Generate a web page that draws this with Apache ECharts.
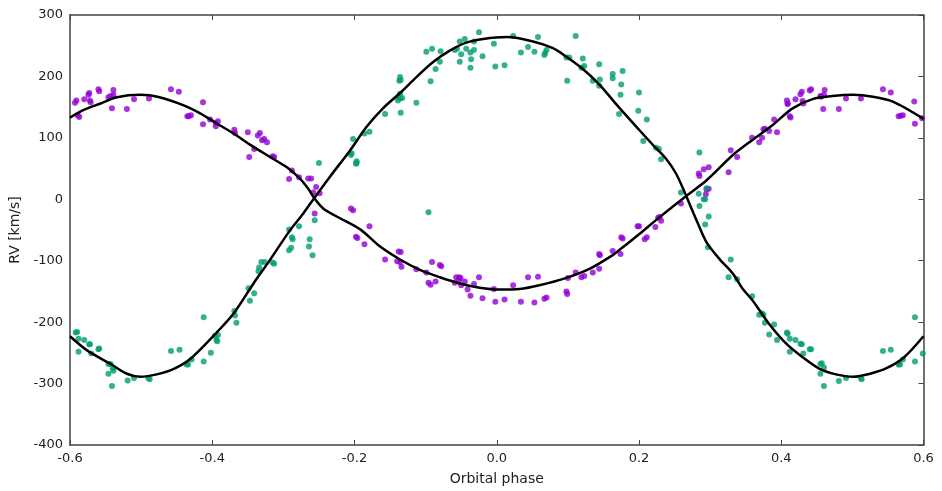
<!DOCTYPE html>
<html>
<head>
<meta charset="utf-8">
<script src="https://cdn.jsdelivr.net/npm/echarts@6/dist/echarts.min.js"></script>
<style>html,body{margin:0;padding:0;background:#fff;}#chart{width:942px;height:491px;}</style>
</head>
<body>
<div id="chart"></div>
<script>
// Purple component: [phase, RV km/s]
const purplePhase = [-0.593,-0.591,-0.589,-0.587,-0.580,-0.573,-0.574,-0.572,-0.571,-0.560,-0.559,-0.546,-0.543,-0.541,-0.539,-0.539,-0.520,-0.510,-0.489,-0.458,-0.447,-0.435,-0.433,-0.430,-0.413,-0.413,-0.403,-0.395,-0.395,-0.392,-0.369,-0.368,-0.350,-0.348,-0.341,-0.336,-0.333,-0.330,-0.327,-0.323,-0.315,-0.313,-0.292,-0.288,-0.278,-0.265,-0.261,-0.254,-0.258,-0.256,-0.249,
-0.205,-0.202,-0.179,-0.198,-0.196,-0.186,
-0.157,-0.138,-0.135,-0.140,-0.136,-0.134,-0.113,-0.099,-0.091,-0.096,-0.093,-0.086,-0.080,-0.078,-0.059,-0.057,-0.053,-0.051,-0.053,-0.050,-0.045,-0.041,-0.037,-0.032,-0.025,-0.020,-0.004,-0.002,0.011,0.023,0.034,0.044,0.053,0.058,0.067,0.070,0.098,0.099,0.100,0.111,0.119,0.123,0.135,0.144,0.144,0.145,0.163,0.174,
0.175,0.177,0.198,0.200,0.208,0.211,0.223,0.227,0.229,0.231,0.259,0.284,0.285,0.291,0.298,0.294,0.295,0.298,0.326,0.329,0.338,0.359,0.369,0.373,0.375,0.377,0.383,0.390,0.394,0.408,0.409,0.409,0.412,0.413,0.420,0.427,0.429,0.430,0.431,0.440,0.442,0.455,0.456,0.460,0.461,0.459,0.481,0.491,0.512,0.543,0.554,0.565,0.568,0.571,0.587,0.588,0.598];
const purpleRV = [157,161,137,134,163,173,170,161,158,179,176,166,168,148,178,170,147,163,164,179,175,135,135,137,158,122,130,124,119,127,113,108,109,69,82,104,108,96,98,93,70,69,33,47,36,34,34,20,11,-23,10,
-15,-18,-44,-61,-63,-73,
-98,-85,-86,-101,-102,-110,-114,-119,-102,-136,-139,-134,-107,-109,-136,-127,-127,-128,-131,-140,-134,-147,-157,-138,-127,-161,-146,-167,-163,-140,-167,-127,-168,-126,-162,-160,-150,-154,-128,-119,-127,-125,-119,-113,-89,-91,-84,-89,
-62,-64,-44,-44,-65,-62,-45,-30,-29,-35,-7,42,38,49,52,8,16,17,44,80,69,100,93,100,114,115,111,130,109,161,156,155,135,133,163,171,175,160,156,177,179,168,167,170,178,147,147,164,164,179,174,135,136,137,159,123,132];

// Green component
const greenPhase = [-0.592,-0.590,-0.588,-0.588,-0.580,-0.573,-0.572,-0.570,-0.560,-0.559,-0.546,-0.543,-0.546,-0.540,-0.539,-0.541,-0.519,-0.510,-0.490,-0.488,-0.458,-0.446,-0.436,-0.434,-0.429,-0.412,-0.412,-0.402,-0.396,-0.392,-0.394,-0.393,-0.369,-0.368,-0.366,-0.349,-0.347,-0.341,-0.335,-0.334,-0.331,-0.326,-0.315,-0.313,-0.292,-0.289,-0.259,
-0.292,-0.288,-0.287,-0.278,-0.263,-0.264,-0.256,-0.250,
-0.202,-0.204,-0.205,-0.197,-0.198,-0.197,-0.186,-0.179,-0.157,-0.136,-0.135,-0.137,-0.136,-0.138,-0.139,-0.136,-0.133,-0.135,-0.113,-0.096,-0.099,-0.091,-0.079,-0.093,-0.086,-0.080,-0.059,-0.056,-0.052,-0.045,-0.050,-0.052,-0.043,-0.037,-0.032,-0.032,-0.036,-0.037,-0.025,-0.020,-0.004,-0.002,0.011,0.023,0.034,0.044,0.053,0.058,0.067,0.068,0.070,0.098,0.102,0.099,0.111,0.121,0.123,0.119,0.135,0.144,0.145,0.144,0.163,0.163,0.177,0.175,0.174,0.172,
0.200,0.199,0.211,0.206,0.224,0.228,0.231,0.259,0.285,0.284,0.295,0.291,0.293,0.285,0.298,0.293,0.297,
0.329,0.326,0.338,0.359,0.369,0.373,0.375,0.377,0.390,0.383,0.394,0.408,0.409,0.412,0.412,0.420,0.427,0.429,0.431,0.440,0.442,0.455,0.457,0.460,0.455,0.460,0.481,0.491,0.512,0.513,0.543,0.554,0.565,0.567,0.571,0.588,0.588,0.599];
const greenRV = [-217,-216,-227,-248,-229,-236,-236,-251,-244,-243,-268,-268,-284,-275,-279,-304,-295,-291,-291,-293,-247,-245,-269,-269,-261,-192,-264,-250,-222,-221,-229,-231,-182,-189,-201,-145,-165,-153,-117,-111,-102,-102,-103,-105,-83,-79,-91,
-49,-62,-65,-44,-65,-77,-34,59,
98,75,72,62,58,59,107,110,139,199,194,193,172,166,161,164,165,141,157,-21,240,245,241,192,212,224,243,245,257,261,236,224,245,239,257,243,228,214,272,233,253,216,218,266,239,248,240,264,235,238,243,231,231,193,266,229,217,214,193,220,195,185,204,197,209,187,170,139,
174,144,130,95,84,82,65,11,76,9,18,0,0,-11,-28,-41,-78,
-98,-127,-130,-158,-188,-186,-188,-201,-204,-220,-229,-217,-219,-227,-248,-229,-235,-236,-251,-244,-244,-268,-267,-274,-284,-304,-296,-291,-291,-293,-247,-245,-269,-269,-261,-192,-264,-251];

// Model curves
const purpleModelPhase = [-0.600,-0.580,-0.557,-0.534,-0.501,-0.477,-0.440,-0.417,-0.393,-0.370,-0.347,-0.319,-0.295,-0.277,-0.265,-0.256,-0.244,-0.225,-0.192,-0.164,-0.136,-0.108,-0.080,-0.052,-0.024,0.004,0.032,0.060,0.098,0.131,0.163,0.173,0.201,0.229,0.266,0.295,0.332,0.360,0.388,0.416,0.444,0.472,0.501,0.529,0.557,0.600];
const purpleModelRV = [133,146,156,166,170,167,153,140,123,107,89,69,52,34,17,1,-15,-28,-49,-77,-98,-115,-127,-137,-144,-147,-146,-140,-128,-113,-91,-82,-56,-29,5,31,72,97,121,148,163,168,170,167,159,131];
const greenModelPhase = [-0.600,-0.576,-0.543,-0.520,-0.501,-0.478,-0.454,-0.431,-0.398,-0.370,-0.342,-0.319,-0.291,-0.272,-0.256,-0.235,-0.206,-0.183,-0.160,-0.136,-0.113,-0.089,-0.066,-0.043,-0.019,0.014,0.051,0.079,0.098,0.121,0.145,0.170,0.201,0.220,0.238,0.252,0.264,0.273,0.283,0.295,0.313,0.332,0.346,0.360,0.383,0.407,0.430,0.454,0.477,0.501,0.525,0.548,0.572,0.600];
const greenModelRV = [-223,-246,-268,-284,-289,-285,-276,-260,-222,-186,-137,-99,-51,-23,3,36,80,118,148,173,199,224,242,255,261,264,257,246,232,212,186,152,112,88,66,42,12,-13,-40,-70,-97,-121,-146,-165,-203,-235,-257,-276,-285,-289,-284,-275,-258,-223];

const xTicks = [-0.6,-0.4,-0.2,0.0,0.2,0.4,0.6];
const yTicks = [-400,-300,-200,-100,0,100,200,300];

const zip = (a, b) => a.map((v, i) => [v, b[i]]);
const FONT = 'DejaVu Sans';
const axisCol = '#444';

const chart = echarts.init(document.getElementById('chart'), null, {renderer: 'canvas'});
chart.setOption({
  animation: false,
  backgroundColor: '#fff',
  grid: {left: 70, right: 18.5, top: 15, bottom: 46},
  xAxis: [{
    type: 'value', min: xTicks[0], max: xTicks[xTicks.length - 1], interval: 0.2,
    name: 'Orbital phase', nameLocation: 'middle', nameGap: 27,
    nameTextStyle: {fontFamily: FONT, fontSize: 14, color: '#222'},
    axisLine: {show: true, onZero: false, lineStyle: {color: axisCol, width: 1.5}},
    axisTick: {show: true, inside: true, length: 5, lineStyle: {color: axisCol, width: 1}},
    axisLabel: {fontFamily: FONT, fontSize: 13, color: '#222', margin: 7, formatter: v => v.toFixed(1)},
    splitLine: {show: false}
  }, {
    type: 'value', position: 'top', min: xTicks[0], max: xTicks[xTicks.length - 1], interval: 0.2,
    axisLine: {show: true, onZero: false, lineStyle: {color: axisCol, width: 1.5}},
    axisTick: {show: true, inside: true, length: 5, lineStyle: {color: axisCol, width: 1}},
    axisLabel: {show: false}, splitLine: {show: false}
  }],
  yAxis: [{
    type: 'value', min: yTicks[0], max: yTicks[yTicks.length - 1], interval: 100,
    name: 'RV [km/s]', nameLocation: 'middle', nameGap: 37,
    nameTextStyle: {fontFamily: FONT, fontSize: 14, color: '#222'},
    axisLine: {show: true, onZero: false, lineStyle: {color: axisCol, width: 1.5}},
    axisTick: {show: false},
    axisLabel: {fontFamily: FONT, fontSize: 13, color: '#222', margin: 7},
    splitLine: {show: false}
  }, {
    type: 'value', position: 'right', min: yTicks[0], max: yTicks[yTicks.length - 1], interval: 100,
    axisLine: {show: true, onZero: false, lineStyle: {color: axisCol, width: 1.5}},
    axisTick: {show: true, inside: true, length: 5, lineStyle: {color: axisCol, width: 1}},
    axisLabel: {show: false}, splitLine: {show: false}
  }],
  series: [
    {type: 'scatter', data: zip(purplePhase, purpleRV), symbolSize: 6, itemStyle: {color: '#9400d3'}, z: 2},
    {type: 'scatter', data: zip(greenPhase, greenRV), symbolSize: 6, itemStyle: {color: '#009e73'}, z: 2},
    {type: 'line', data: zip(purpleModelPhase, purpleModelRV), showSymbol: false, smooth: 0.3, lineStyle: {color: '#000', width: 2.5}, z: 3},
    {type: 'line', data: zip(greenModelPhase, greenModelRV), showSymbol: false, smooth: 0.3, lineStyle: {color: '#000', width: 2.5}, z: 3}
  ]
});
</script>
</body>
</html>
